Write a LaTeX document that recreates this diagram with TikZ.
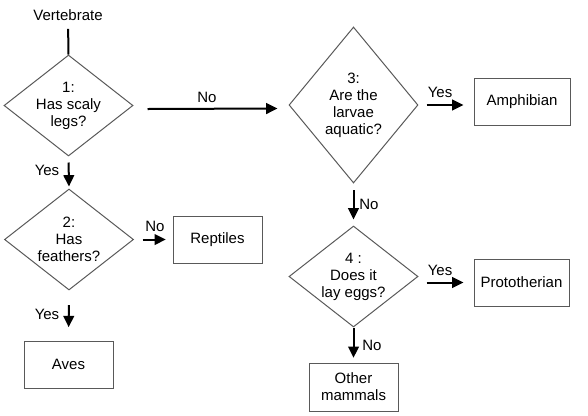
\documentclass[tikz,border=0pt]{standalone}
\usepackage{fontspec}
\setmainfont{Liberation Sans}
\usetikzlibrary{shapes.geometric,arrows.meta}
\begin{document}
\begin{tikzpicture}[x=0.75pt,y=-0.75pt,
  font=\fontsize{11.25}{12.75}\selectfont,
  dia/.style={diamond, draw=black!65, line width=0.75pt, inner sep=0pt,
    minimum width=96.75pt, minimum height=75.75pt},
  tall/.style={minimum height=117pt},
  qtext/.style={align=center, inner sep=0pt},
  box/.style={rectangle, draw=black!65, line width=0.75pt, inner sep=0pt,
    minimum width=66.75pt, minimum height=35.25pt, align=center},
  arr/.style={line width=1.5pt, -{Triangle[length=8.5pt,width=8pt]}},
  lbl/.style={inner sep=0pt}]
\useasboundingbox (0,0) rectangle (588,415);

\node[inner sep=0pt] (vert) at (68,15) {Vertebrate};
\node[dia, label={[qtext]center:1:\\Has scaly\\legs?}] (d1) at (68.5,105.5) {};
\node[dia, label={[qtext]center:2:\\Has\\feathers?}] (d2) at (69,239.5) {};
\node[dia, tall, label={[qtext]center:3:\\Are the\\larvae\\aquatic?}] (d3) at (353.5,105) {};
\node[dia, label={[qtext]center:4 :\\Does it\\lay eggs?}] (d4) at (353.5,276.5) {};

\node[box] (rep) at (217.5,239.5) {Reptiles};
\node[box] (aves) at (68.5,364.5) {Aves};
\node[box, minimum width=72pt] (amph) at (522,101.5) {Amphibian};
\node[box, minimum width=71.25pt] (proto) at (521.5,282.5) {Prototherian};
\node[box, minimum height=36pt] (other) at (353.5,387) {Other\\mammals};

\draw[line width=1.5pt, shorten <=6pt] (vert.south) -- (d1.north);
\draw[arr] ([shift={(14,3.5)}]d1.east) -- ([shift={(-11,3.5)}]d3.west);
\draw[arr, shorten <=4.5pt, shorten >=1.5pt] (d1.south) -- (d2.north);
\draw[arr, shorten <=6.5pt, shorten >=5pt] (d2.east) -- (rep.west);
\draw[arr, shorten <=11pt, shorten >=10pt] (d2.south) -- (aves.north);
\draw[arr, shorten <=6pt, shorten >=7.5pt] (d3.east) -- (d3.east -| amph.west);
\draw[arr, shorten <=5pt, shorten >=4.5pt] (d3.south) -- (d4.north);
\draw[arr, shorten <=6pt, shorten >=7.5pt] (d4.east |- proto.west) -- (proto.west);
\draw[arr, shorten >=3.5pt] (d4.south) -- (other.north);

\node[lbl] (l1) at (207,97) {No};
\node[lbl] (l2) at (47,170) {Yes};
\node[lbl] (l3) at (155,226) {No};
\node[lbl] (l4) at (47,314) {Yes};
\node[lbl] (l5) at (440,92) {Yes};
\node[lbl] (l6) at (369,204) {No};
\node[lbl] (l7) at (440,270) {Yes};
\node[lbl] (l8) at (372,345) {No};
\end{tikzpicture}
\end{document}
